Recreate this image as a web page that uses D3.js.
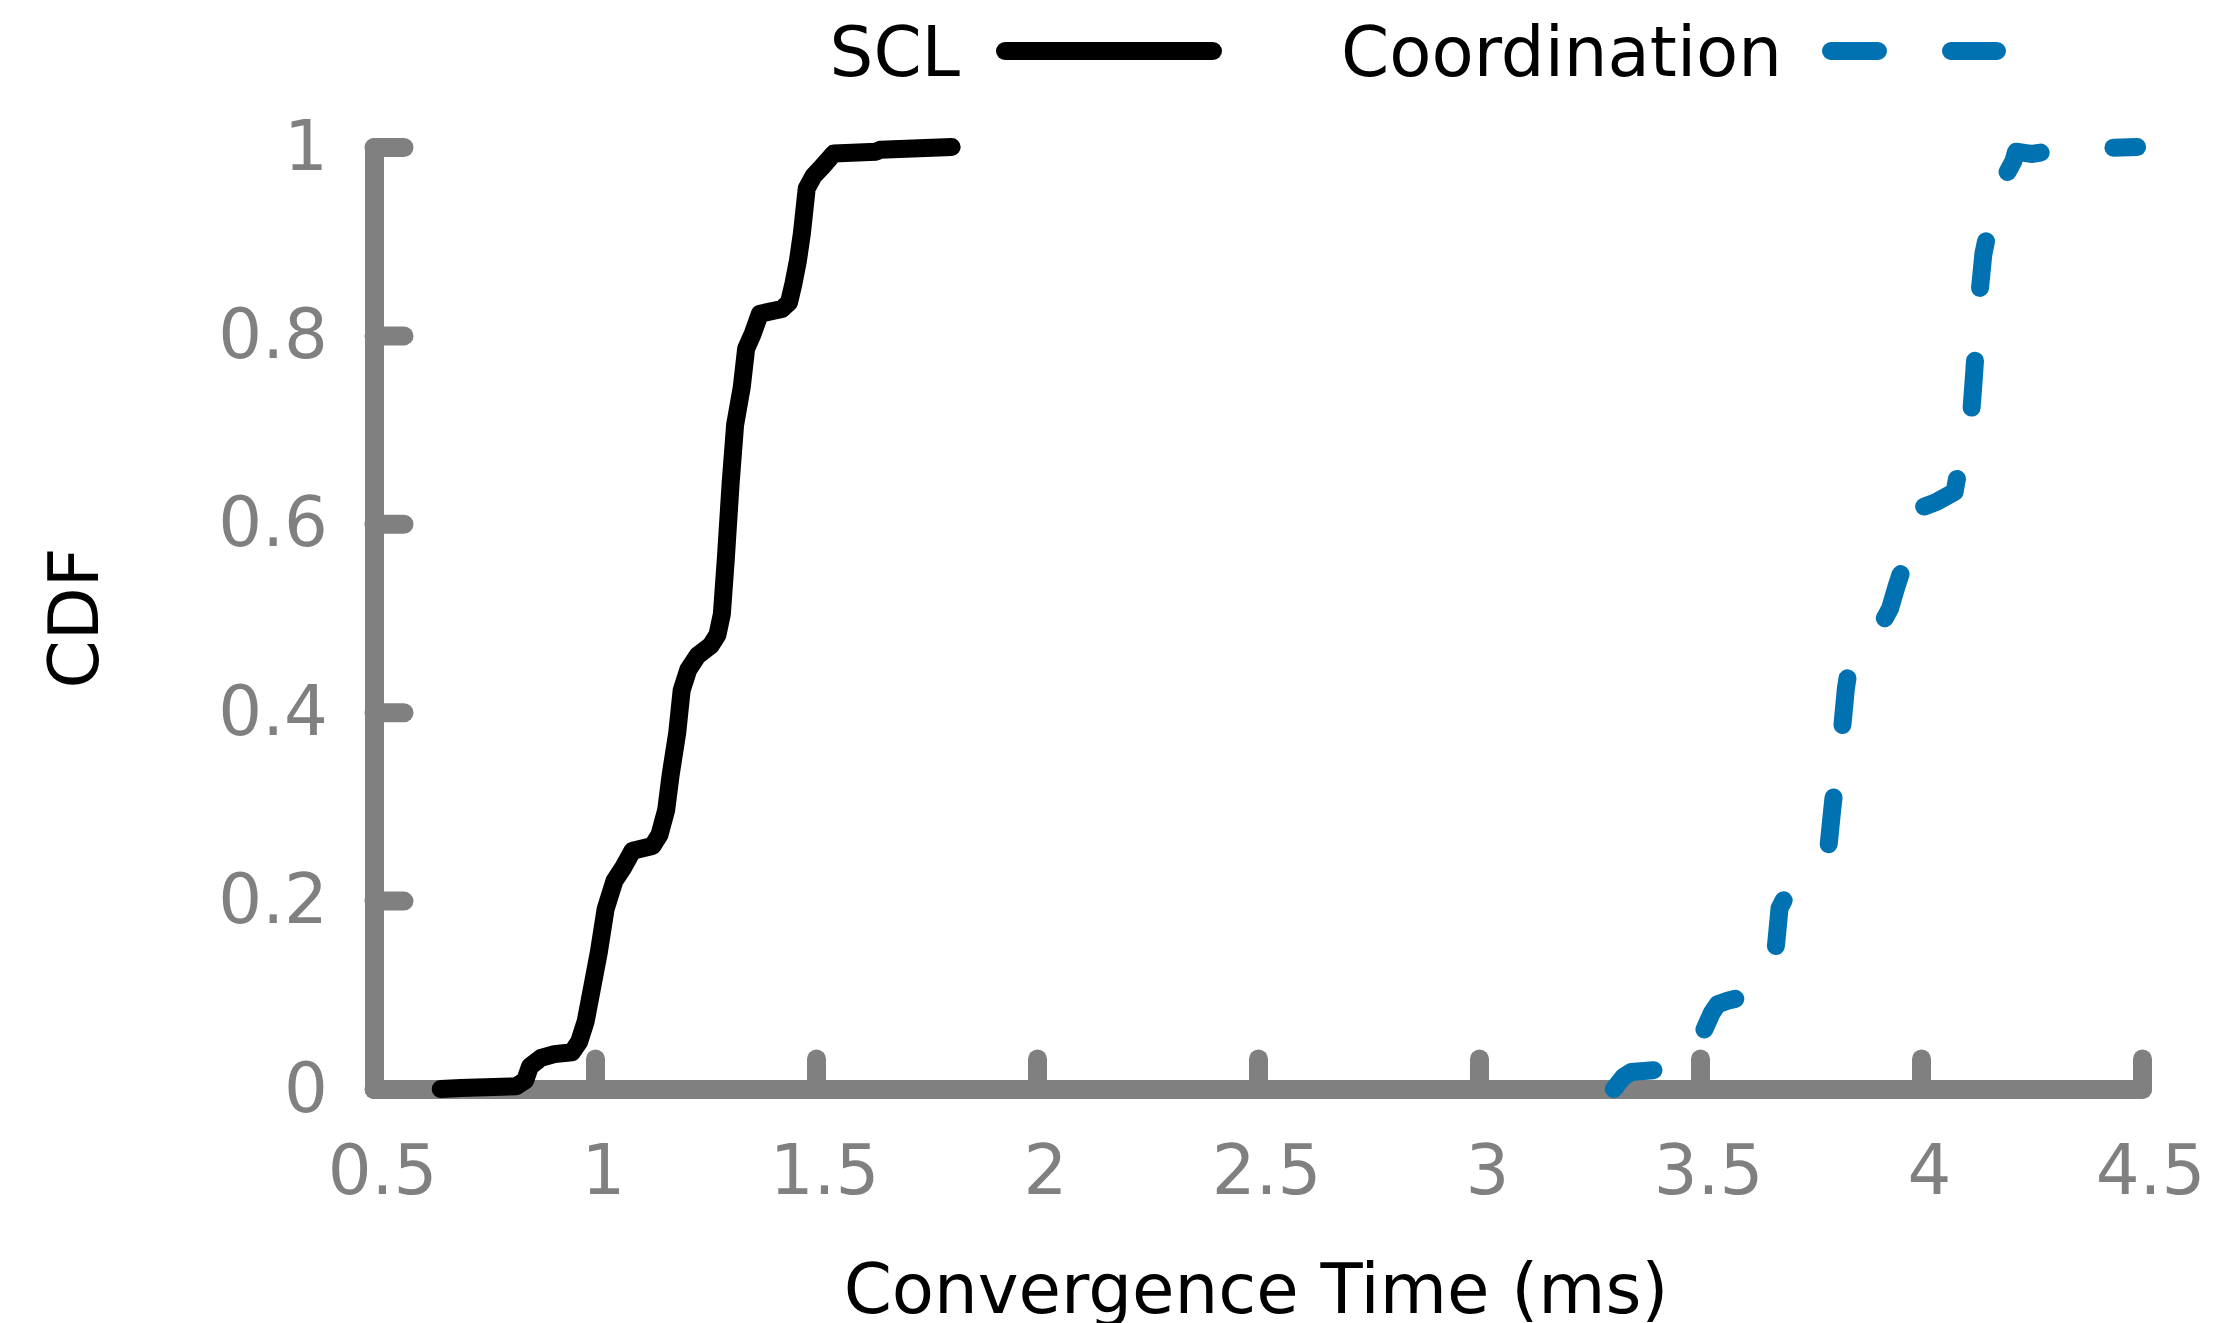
<!DOCTYPE html>
<html>
<head>
<meta charset="utf-8">
<script src="https://cdn.jsdelivr.net/npm/d3@7"></script>
<style>
  body { margin: 0; background: #fff; }
  text { font-family: "DejaVu Sans", sans-serif; }
</style>
</head>
<body>
<div id="chart"></div>
<script>
// series (convergence time in ms, CDF value)
var seriesNames = ["SCL", "Coordination"];
var seriesColors = ["#000000", "#0072b2"];

var sclTime = [0.651, 0.696, 0.822, 0.842, 0.853, 0.878, 0.908, 0.948, 0.964, 0.979, 0.994, 1.009, 1.024,
  1.044, 1.065, 1.085, 1.13, 1.146, 1.161, 1.171, 1.186, 1.196, 1.211, 1.232, 1.262, 1.277, 1.287,
  1.296, 1.307, 1.317, 1.332, 1.342, 1.357, 1.373, 1.423, 1.439, 1.449, 1.459, 1.468, 1.479, 1.494,
  1.514, 1.54, 1.636, 1.645, 1.807];
var sclCdf = [0.0, 0.001, 0.003, 0.009, 0.024, 0.033, 0.037, 0.039, 0.05, 0.072, 0.109, 0.146, 0.191,
  0.221, 0.236, 0.253, 0.258, 0.27, 0.296, 0.333, 0.378, 0.423, 0.445, 0.46, 0.471, 0.482, 0.504,
  0.563, 0.644, 0.705, 0.745, 0.786, 0.802, 0.823, 0.828, 0.835, 0.855, 0.879, 0.908, 0.956, 0.969,
  0.979, 0.993, 0.995, 0.997, 1.0];

var coordTime = [3.305, 3.327, 3.344, 3.396, 3.46, 3.485, 3.507, 3.527, 3.54, 3.564, 3.62, 3.645, 3.66,
  3.671, 3.68, 3.70, 3.74, 3.779, 3.791, 3.799, 3.808, 3.82, 3.83, 3.835, 3.86, 3.89, 3.915, 3.93,
  3.945, 3.97, 3.99, 4.0, 4.034, 4.076, 4.09, 4.112, 4.12, 4.126, 4.131, 4.141, 4.16, 4.185, 4.209,
  4.215, 4.249, 4.33, 4.423, 4.489];
var coordCdf = [0.0, 0.013, 0.018, 0.02, 0.023, 0.04, 0.06, 0.081, 0.09, 0.094, 0.10, 0.118, 0.142,
  0.148, 0.192, 0.21, 0.225, 0.248, 0.259, 0.296, 0.335, 0.375, 0.425, 0.44, 0.47, 0.49, 0.497, 0.51,
  0.534, 0.57, 0.607, 0.617, 0.623, 0.634, 0.67, 0.707, 0.758, 0.80, 0.838, 0.886, 0.93, 0.964, 0.985,
  0.995, 0.9926, 0.998, 0.999, 1.0];

var xTicks = [0.5, 1, 1.5, 2, 2.5, 3, 3.5, 4, 4.5];
var yTicks = [0, 0.2, 0.4, 0.6, 0.8, 1];

var W = 2214, H = 1323;
var margin = {top: 147, right: 72, bottom: 234, left: 374};
var grey = "#808080";
var fontSize = "69px";
var dash = "47,73";

var svg = d3.select("#chart").append("svg")
    .attr("width", W)
    .attr("height", H)
    .style("background", "#fff");

var x = d3.scaleLinear().domain([0.5, 4.5]).range([margin.left, W - margin.right]);
var y = d3.scaleLinear().domain([0, 1]).range([H - margin.bottom, margin.top]);

// axes, ticks pointing inward
var xAxis = svg.append("g")
    .attr("transform", "translate(0," + y(0) + ")")
    .call(d3.axisBottom(x).tickValues(xTicks).tickFormat(String)
      .tickSize(-30).tickSizeOuter(0).tickPadding(56));

var yAxis = svg.append("g")
    .attr("transform", "translate(" + x(0.5) + ",0)")
    .call(d3.axisLeft(y).tickValues(yTicks).tickFormat(String)
      .tickSize(-30).tickSizeOuter(0).tickPadding(46));

xAxis.selectAll("text").attr("dx", 8);

[xAxis, yAxis].forEach(function(g) {
  g.selectAll("path, line")
      .attr("stroke", grey)
      .attr("stroke-width", 19)
      .attr("stroke-linecap", "round")
      .attr("stroke-linejoin", "round");
  g.selectAll("text")
      .attr("fill", grey)
      .style("font-size", fontSize)
      .style("font-family", "DejaVu Sans");
});

// curves
var line = d3.line()
    .x(function(d) { return x(d[0]); })
    .y(function(d) { return y(d[1]); });

var sclData = sclTime.map(function(t, i) { return [t, sclCdf[i]]; });
var coordData = coordTime.map(function(t, i) { return [t, coordCdf[i]]; });

svg.append("path")
    .datum(sclData)
    .attr("d", line)
    .attr("fill", "none")
    .attr("stroke", seriesColors[0])
    .attr("stroke-width", 18)
    .attr("stroke-linejoin", "round")
    .attr("stroke-linecap", "round");

svg.append("path")
    .datum(coordData)
    .attr("d", line)
    .attr("fill", "none")
    .attr("stroke", seriesColors[1])
    .attr("stroke-width", 18)
    .attr("stroke-dasharray", dash)
    .attr("stroke-linejoin", "round")
    .attr("stroke-linecap", "round");

// axis titles
svg.append("text")
    .attr("x", 1256)
    .attr("y", 1313)
    .attr("text-anchor", "middle")
    .style("font-size", fontSize)
    .text("Convergence Time (ms)");

svg.append("text")
    .attr("transform", "translate(98," + (y(0) + y(1)) / 2 + ") rotate(-90)")
    .attr("text-anchor", "middle")
    .style("font-size", fontSize)
    .text("CDF");

// legend
var legend = [
  {name: seriesNames[0], color: seriesColors[0], textEnd: 960, x1: 1005, x2: 1213, dash: null},
  {name: seriesNames[1], color: seriesColors[1], textEnd: 1782, x1: 1831, x2: 1997, dash: dash}
];
legend.forEach(function(l) {
  svg.append("text")
      .attr("x", l.textEnd)
      .attr("y", 76)
      .attr("text-anchor", "end")
      .style("font-size", fontSize)
      .text(l.name);
  svg.append("line")
      .attr("x1", l.x1).attr("x2", l.x2)
      .attr("y1", 51).attr("y2", 51)
      .attr("stroke", l.color)
      .attr("stroke-width", 18)
      .attr("stroke-linecap", "round")
      .attr("stroke-dasharray", l.dash);
});
</script>
</body>
</html>
